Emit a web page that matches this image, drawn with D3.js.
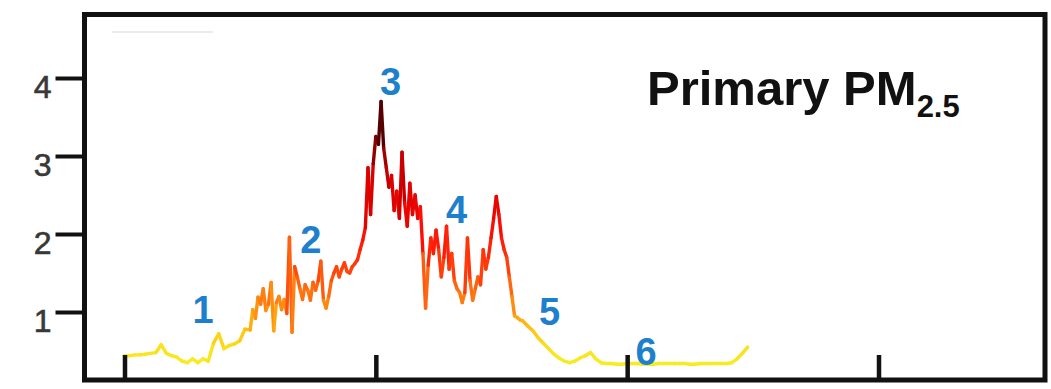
<!DOCTYPE html>
<html lang="en">
<head>
  <meta charset="UTF-8" />
  <title>Primary PM2.5</title>
  <script src="https://cdn.jsdelivr.net/npm/d3@7"></script>
  <style>
    html, body { margin: 0; padding: 0; background: #fff; overflow: hidden; }
    svg { display: block; }
  </style>
</head>
<body>
  <script>
    // ------ Data ------
    // three stretches of the record, each sampled on its own grid (hours from first tick)
    const earlyStart = 0, earlyStep = 0.5;
    const early = [
      0.44, 0.44, 0.45, 0.45, 0.46, 0.47, 0.48, 0.58, 0.47, 0.44, 0.42, 0.37,
      0.35, 0.40, 0.35, 0.40, 0.37, 0.60, 0.72, 0.53, 0.57, 0.59, 0.63, 0.78
    ];
    const episodeStart = 12, episodeStep = 0.25;
    const episode = [
      0.77, 1.03, 0.92, 1.19,  1.10, 1.30, 1.02, 1.10,  1.38, 0.76, 1.12, 1.20,
      1.03, 1.16, 0.98, 1.96,  0.74, 1.58, 1.45, 1.30,  1.16, 1.35, 1.28, 1.15,
      1.38, 1.28, 1.40, 1.65,  1.15, 1.05, 1.20, 1.40,  1.50, 1.58, 1.45, 1.55,
      1.63, 1.52, 1.50, 1.58,  1.62, 1.67, 1.80, 1.92,  2.08, 2.85, 2.25, 2.90,
      3.25, 3.15, 3.70, 3.10,  2.85, 2.60, 2.75, 2.30,  2.55, 2.20, 3.05, 2.40,
      2.10, 2.65, 2.25, 2.50,  2.20, 2.35, 1.75, 1.05,  1.60, 1.95, 1.75, 2.05,
      1.80, 1.45, 1.70, 2.10,  1.55, 1.75, 1.40, 1.30,  1.25, 1.12, 1.25, 1.95,
      1.40, 1.15, 1.30, 1.45,  1.35, 1.80, 1.55, 1.70,  1.95, 2.20, 2.48, 2.25,
      1.95, 1.80, 1.70, 1.45,  1.20, 0.95, 0.93, 0.90
    ];
    const lateStart = 38, lateStep = 0.5;
    const late = [
      0.89, 0.82, 0.76, 0.67, 0.60, 0.53, 0.46, 0.41, 0.37, 0.35, 0.37, 0.41, 0.44, 0.48, 0.40, 0.35, 0.34,
      0.34, 0.33, 0.33, 0.34, 0.34, 0.34, 0.33, 0.33, 0.33, 0.34, 0.34, 0.34, 0.34, 0.34,
      0.34, 0.33, 0.33, 0.34, 0.34, 0.34, 0.34, 0.34, 0.34, 0.35, 0.40, 0.47, 0.55
    ];
    const yTicks = [1, 2, 3, 4];
    const xTicks = [0, 24, 48, 72];
    // numbered episode labels: text, hour, value at the text baseline
    const markLabels = ["1", "2", "3", "4", "5", "6"];
    const markHours = [7.5, 17.8, 25.4, 31.7, 40.6, 49.8];
    const markValues = [0.86, 1.76, 3.78, 2.14, 0.83, 0.32];

    const width = 1051, height = 389;
    const frame = { left: 84.5, top: 14.5, right: 1045, bottom: 380 };

    const svg = d3.select("body").append("svg")
      .attr("width", width)
      .attr("height", height);

    const x = d3.scaleLinear().domain([0, 72]).range([124.5, 878.5]);
    const y = d3.scaleLinear().domain([0, 4]).range([390, 78]);

    const color = d3.scaleLinear()
      .domain([0.35, 0.55, 0.8, 1.0, 1.3, 1.6, 2.0, 2.6, 3.1, 3.7])
      .range(["#f6ec22", "#fbe01c", "#ffbe10", "#ff9a10", "#ff6a10", "#ff3c0a",
              "#ff1006", "#d80000", "#900000", "#200000"])
      .clamp(true);

    const pts = [
      ...early.map((v, i) => ({ h: earlyStart + i * earlyStep, v })),
      ...episode.map((v, i) => ({ h: episodeStart + i * episodeStep, v })),
      ...late.map((v, i) => ({ h: lateStart + i * lateStep, v }))
    ];

    // faint leftover stroke near the top-left corner of the original
    svg.append("line")
      .attr("x1", 112).attr("y1", 32).attr("x2", 213).attr("y2", 32)
      .attr("stroke", "#ececec").attr("stroke-width", 2);

    // ------ coloured line, one segment per sample pair ------
    const lineG = svg.append("g");
    for (let i = 0; i < pts.length - 1; i++) {
      const a = pts[i], b = pts[i + 1];
      lineG.append("line")
        .attr("x1", x(a.h)).attr("y1", y(a.v))
        .attr("x2", x(b.h)).attr("y2", y(b.v))
        .attr("stroke", color((a.v + b.v) / 2))
        .attr("stroke-width", 3.4)
        .attr("stroke-linecap", "round");
    }

    // ------ frame ------
    svg.append("rect")
      .attr("x", frame.left).attr("y", frame.top)
      .attr("width", frame.right - frame.left)
      .attr("height", frame.bottom - frame.top)
      .attr("fill", "none")
      .attr("stroke", "#111")
      .attr("stroke-width", 5);

    // ------ y axis (outward ticks) ------
    const yAxis = svg.append("g")
      .attr("transform", `translate(${frame.left - 2},0)`)
      .call(d3.axisLeft(y).tickValues(yTicks).tickSize(27).tickPadding(4).tickFormat(d3.format("d")));
    yAxis.select(".domain").remove();
    yAxis.selectAll(".tick line").attr("stroke", "#111").attr("stroke-width", 4);
    yAxis.selectAll(".tick text")
      .attr("fill", "#383838")
      .attr("stroke", "#383838")
      .attr("stroke-width", 0.6)
      .attr("font-family", "Liberation Sans, Arial, sans-serif")
      .attr("font-size", 32)
      .attr("dy", "0.6em");

    // ------ x axis (inward ticks, no labels) ------
    const xAxis = svg.append("g")
      .attr("transform", `translate(0,${frame.bottom})`)
      .call(d3.axisBottom(x).tickValues(xTicks).tickSize(-25).tickFormat(""));
    xAxis.select(".domain").remove();
    xAxis.selectAll(".tick line").attr("stroke", "#111").attr("stroke-width", 4.5);

    // ------ numbered labels ------
    svg.append("g").selectAll("text")
      .data(markLabels)
      .join("text")
      .attr("x", (d, i) => x(markHours[i]))
      .attr("y", (d, i) => y(markValues[i]))
      .attr("text-anchor", "middle")
      .attr("font-family", "Liberation Sans, Arial, sans-serif")
      .attr("font-weight", "bold")
      .attr("font-size", 38)
      .attr("fill", "#1e80cc")
      .text(d => d);

    // ------ title ------
    const title = svg.append("text")
      .attr("x", 647).attr("y", 105)
      .attr("font-family", "Liberation Sans, Arial, sans-serif")
      .attr("font-weight", "bold")
      .attr("font-size", 49)
      .attr("fill", "#111");
    title.append("tspan").text("Primary PM");
    title.append("tspan")
      .attr("font-size", 31)
      .attr("dy", 12)
      .text("2.5");
  </script>
</body>
</html>
